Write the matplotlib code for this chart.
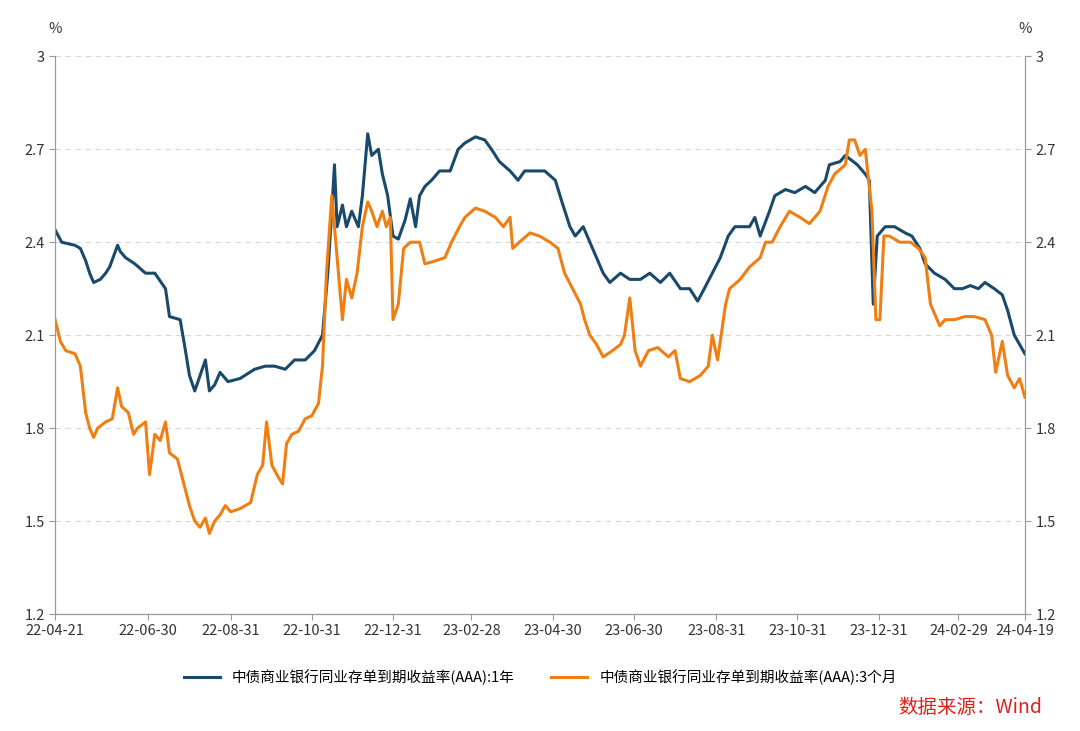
import matplotlib
matplotlib.use("Agg")
import matplotlib.pyplot as plt
import pandas as pd

plt.rcParams["font.family"] = ["Noto Sans CJK SC", "DejaVu Sans"]

start = pd.Timestamp("2022-04-21")
end = pd.Timestamp("2024-04-19")

blue_days = [0,5,15,19,23,26,29,34,38,41,47,49,53,60,68,75,83,86,94,98,101,105,109,113,116,120,124,130,139,150,158,165,173,180,188,195,201,205,208,210,212,216,219,223,228,231,235,238,243,246,250,254,258,263,267,271,274,278,283,289,297,303,308,316,323,328,334,342,348,353,361,368,376,381,387,391,397,402,407,412,417,425,432,440,447,455,462,470,477,483,488,494,500,506,511,517,522,526,530,537,541,549,556,564,571,579,582,590,594,597,603,609,612,615,618,624,631,639,644,650,654,661,669,676,682,688,694,699,706,712,716,721,725,729]
blue_vals = [2.44,2.40,2.39,2.38,2.34,2.30,2.27,2.28,2.30,2.32,2.39,2.37,2.35,2.33,2.30,2.30,2.25,2.16,2.15,2.05,1.97,1.92,1.97,2.02,1.92,1.94,1.98,1.95,1.96,1.99,2.00,2.00,1.99,2.02,2.02,2.05,2.10,2.30,2.50,2.65,2.45,2.52,2.45,2.50,2.45,2.55,2.75,2.68,2.70,2.62,2.55,2.42,2.41,2.47,2.54,2.45,2.55,2.58,2.60,2.63,2.63,2.70,2.72,2.74,2.73,2.70,2.66,2.63,2.60,2.63,2.63,2.63,2.60,2.53,2.45,2.42,2.45,2.40,2.35,2.30,2.27,2.30,2.28,2.28,2.30,2.27,2.30,2.25,2.25,2.21,2.25,2.30,2.35,2.42,2.45,2.45,2.45,2.48,2.42,2.50,2.55,2.57,2.56,2.58,2.56,2.60,2.65,2.66,2.68,2.67,2.65,2.62,2.60,2.20,2.42,2.45,2.45,2.43,2.42,2.38,2.33,2.30,2.28,2.25,2.25,2.26,2.25,2.27,2.25,2.23,2.18,2.10,2.07,2.04]

orange_days = [0,4,8,15,19,23,26,29,32,38,43,47,50,55,59,62,68,71,75,79,83,86,92,98,101,105,109,113,116,120,124,128,132,139,147,152,156,159,163,168,171,174,178,183,188,193,198,201,204,208,212,216,219,223,227,231,235,238,242,246,249,252,254,258,262,267,274,278,286,293,298,304,308,316,323,331,337,342,344,349,357,364,372,378,383,389,395,398,402,407,412,419,425,428,432,436,440,446,453,461,466,470,477,485,491,494,498,504,507,515,522,530,534,539,545,552,560,567,575,581,586,594,597,601,605,609,614,617,620,623,627,635,643,649,654,658,661,665,669,676,684,691,699,704,707,712,716,721,725,729]
orange_vals = [2.15,2.08,2.05,2.04,2.00,1.85,1.80,1.77,1.80,1.82,1.83,1.93,1.87,1.85,1.78,1.80,1.82,1.65,1.78,1.76,1.82,1.72,1.70,1.60,1.55,1.50,1.48,1.51,1.46,1.50,1.52,1.55,1.53,1.54,1.56,1.65,1.68,1.82,1.68,1.64,1.62,1.75,1.78,1.79,1.83,1.84,1.88,2.00,2.30,2.55,2.35,2.15,2.28,2.22,2.30,2.45,2.53,2.50,2.45,2.50,2.45,2.48,2.15,2.20,2.38,2.40,2.40,2.33,2.34,2.35,2.40,2.45,2.48,2.51,2.50,2.48,2.45,2.48,2.38,2.40,2.43,2.42,2.40,2.38,2.30,2.25,2.20,2.15,2.10,2.07,2.03,2.05,2.07,2.10,2.22,2.05,2.00,2.05,2.06,2.03,2.05,1.96,1.95,1.97,2.00,2.10,2.02,2.20,2.25,2.28,2.32,2.35,2.40,2.40,2.45,2.50,2.48,2.46,2.50,2.58,2.62,2.65,2.73,2.73,2.68,2.70,2.50,2.15,2.15,2.42,2.42,2.40,2.40,2.38,2.35,2.20,2.17,2.13,2.15,2.15,2.16,2.16,2.15,2.10,1.98,2.08,1.97,1.93,1.96,1.90]

tick_labels = ["22-04-21","22-06-30","22-08-31","22-10-31","22-12-31","23-02-28","23-04-30",
               "23-06-30","23-08-31","23-10-31","23-12-31","24-02-29","24-04-19"]
y_ticks = [1.2, 1.5, 1.8, 2.1, 2.4, 2.7, 3.0]
y_labels = ["1.2", "1.5", "1.8", "2.1", "2.4", "2.7", "3"]

name1 = "中债商业银行同业存单到期收益率(AAA):1年"
name2 = "中债商业银行同业存单到期收益率(AAA):3个月"

bd = start + pd.to_timedelta(blue_days, unit="D")
od = start + pd.to_timedelta(orange_days, unit="D")
td = pd.to_datetime(["20" + t for t in tick_labels])

fig = plt.figure(figsize=(10.8, 7.31), dpi=100)
ax = fig.add_axes([0.051, 0.16, 0.898, 0.763])
ax.plot(bd, blue_vals, color="#1a4a6b", lw=2.2, label=name1)
ax.plot(od, orange_vals, color="#f07f13", lw=2.2, label=name2)
ax.set_xlim(start, end)
ax.set_ylim(1.2, 3.0)
ax.set_yticks(y_ticks)
ax.set_yticklabels(y_labels)
ax.set_xticks(td)
ax.set_xticklabels(tick_labels)
ax.grid(axis="y", color="#d8d8d8", ls=(0, (5, 4)), lw=0.8)
for s in ["top"]:
    ax.spines[s].set_visible(False)
for s in ["left", "right", "bottom"]:
    ax.spines[s].set_color("#999999")
ax.tick_params(axis="both", colors="#333333", labelsize=10.5, length=4, direction="out")
ax.tick_params(axis="y", color="#999999")
ax.tick_params(axis="x", color="#999999")
ax2 = ax.twinx()
ax2.set_ylim(1.2, 3.0)
ax2.set_yticks(y_ticks)
ax2.set_yticklabels(y_labels)
ax2.spines["top"].set_visible(False)
for s in ["left", "right", "bottom"]:
    ax2.spines[s].set_color("#999999")
ax2.tick_params(axis="y", colors="#333333", labelsize=10.5, length=4, color="#999999")

fig.text(0.051, 0.955, "%", ha="center", fontsize=10.5, color="#333333")
fig.text(0.949, 0.955, "%", ha="center", fontsize=10.5, color="#333333")
fig.legend(loc="center", bbox_to_anchor=(0.5, 0.074), ncol=2, frameon=False,
           fontsize=10.5, handlelength=2.5, columnspacing=2.5)
fig.text(0.965, 0.025, "数据来源：Wind", ha="right", fontsize=14, color="#e0201b")
fig.savefig("out.png", dpi=100)
